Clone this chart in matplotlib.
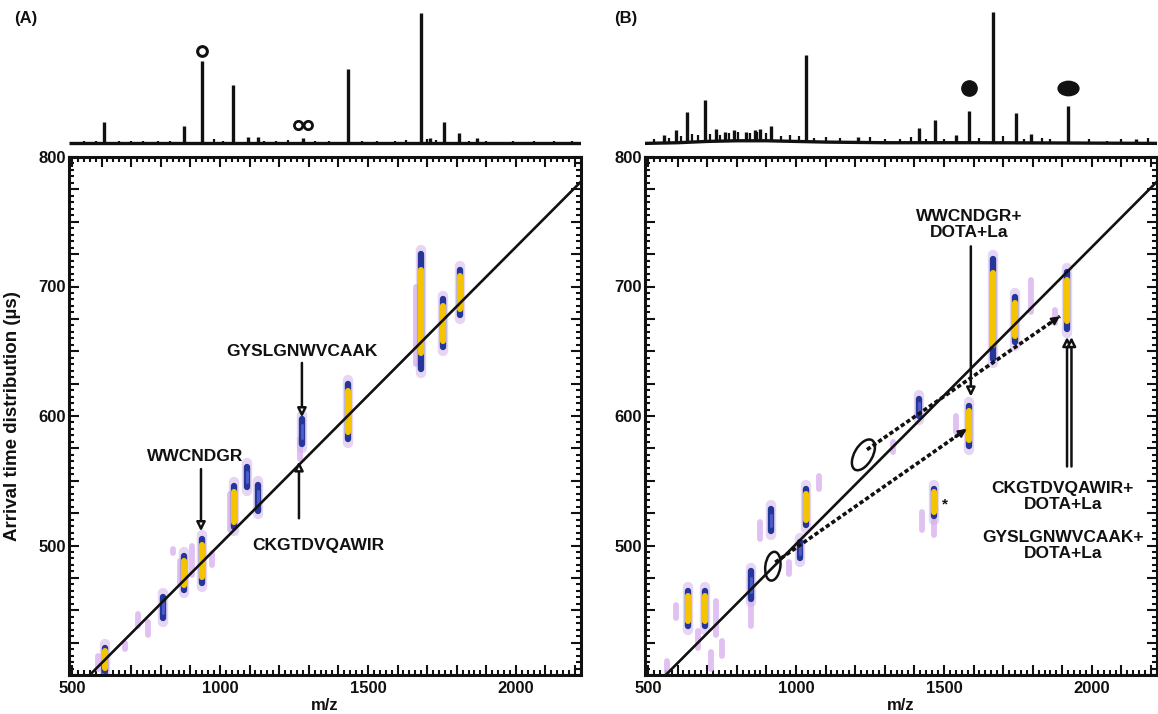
import numpy as np
import matplotlib
matplotlib.use("Agg")
from matplotlib import pyplot as plt
from matplotlib.ticker import MultipleLocator, FuncFormatter
from matplotlib.patches import Ellipse
from matplotlib.path import Path
from matplotlib.transforms import ScaledTranslation

plt.rcParams["font.family"] = ["Liberation Sans", "DejaVu Sans"]
plt.rcParams["font.weight"] = "bold"

# ---- top mass spectra (relative intensity) ----
a_peak_mz = [609, 878, 940, 1045, 1095, 1128, 1281, 1433, 1678, 1710, 1757, 1808, 1867]
a_peak_h = [16, 13, 63, 45, 5, 5, 4, 57, 100, 4, 16, 8, 4]
a_noise_mz = [540, 580, 660, 700, 740, 790, 830, 980, 1010, 1150, 1190, 1230, 1320, 1370,
              1480, 1530, 1590, 1630, 1700, 1730, 1840, 1900, 1990, 2060, 2130, 2190]
a_noise_h = [2, 1.5, 2, 1.5, 2, 1.5, 2, 3, 2, 1.5, 2, 2.5, 2, 1.5,
             2, 1.5, 2, 2.5, 3, 2.5, 2, 1.5, 2, 1.5, 2, 1.5]
a_base_mz = [490, 2220]
a_base_h = [0, 0]

b_peak_mz = [554, 594, 632, 693, 730, 760, 790, 830, 860, 880, 916, 1034, 1210,
             1416, 1470, 1541, 1584, 1666, 1742, 1794, 1919, 2149]
b_peak_h = [6, 10, 23, 32, 9, 7, 8, 7, 8, 9, 11, 66, 4, 11, 17, 6, 24, 100, 23, 7, 28, 3]
b_noise_mz = [520, 570, 610, 650, 670, 710, 745, 775, 805, 845, 870, 900, 950, 980, 1010,
              1060, 1100, 1150, 1250, 1300, 1350, 1390, 1440, 1500, 1620, 1700, 1770,
              1830, 1860, 1990, 2050, 2100, 2190]
b_noise_h = [3, 4, 5, 6, 5, 6, 5, 6, 7, 6, 7, 6, 4, 5, 4, 3, 4, 3, 4, 3, 3, 4, 3, 3, 4,
             5, 3, 4, 3, 3, 2, 3, 4]
b_base_mz = [490, 600, 700, 800, 900, 1000, 1100, 1300, 1600, 1900, 2220]
b_base_h = [0, 0.5, 1.5, 2, 2, 1.5, 1, 0.5, 0.5, 0.3, 0]

# ---- 2D arrival-time spots: m/z, low, high (us), kind ----
a_spot_mz = [588, 612, 679, 723, 757, 808, 841, 865, 878, 905, 940, 973, 1033, 1047,
             1093, 1128, 1270, 1277, 1433, 1662, 1679, 1753, 1811]
a_spot_lo = [405, 403, 420, 438, 431, 444, 494, 470, 466, 477, 471, 485, 512, 514,
             545, 527, 567, 578, 582, 640, 636, 653, 678]
a_spot_hi = [415, 421, 425, 447, 441, 460, 497, 488, 492, 500, 505, 494, 540, 546,
             561, 547, 582, 598, 625, 700, 725, 690, 713]
a_spot_kind = ["p", "y", "p", "p", "p", "b", "p", "p", "y", "p", "y", "p", "p", "y",
               "b", "b", "p", "b", "y", "p", "y", "y", "y"]

b_spot_mz = [563, 596, 634, 669, 693, 713, 730, 750, 848, 848, 879, 917, 977, 1014,
             1034, 1078, 1328, 1416, 1426, 1466, 1466, 1541, 1586, 1666, 1740, 1794,
             1875, 1916]
b_spot_lo = [400, 444, 438, 421, 438, 405, 431, 415, 438, 459, 505, 511, 478, 490,
             516, 544, 572, 600, 512, 508, 523, 588, 577, 644, 657, 680, 672, 667]
b_spot_hi = [411, 454, 465, 434, 465, 418, 457, 426, 459, 480, 518, 528, 487, 503,
             544, 554, 580, 613, 526, 520, 544, 600, 608, 721, 692, 705, 682, 711]
b_spot_kind = ["p", "p", "y", "p", "y", "p", "p", "p", "p", "b", "p", "b", "p", "b",
               "y", "p", "p", "b", "p", "p", "y", "p", "y", "y", "y", "p", "p", "y"]

# linear trend line (m/z, us)
fit_mz = [560, 2220]
fit_atd = [400, 781]

# annotations panel A: text pos, arrow x, arrow start/end
a_labels = ["GYSLGNWVCAAK", "CKGTDVQAWIR", "WWCNDGR"]
a_label_mz = [1277, 1331, 916]
a_label_atd = [650, 500, 569]
a_arrow_mz = [1277, 1267, 936]
a_arrow_from = [641, 521, 559]
a_arrow_to = [599, 565, 511]

# annotations panel B
b_labels = ["WWCNDGR+\nDOTA+La", "CKGTDVQAWIR+\nDOTA+La", "GYSLGNWVCAAK+\nDOTA+La"]
b_label_mz = [1585, 1902, 1902]
b_label_atd = [748, 538, 500]
b_arrow_mz = [1591, 1916, 1931]
b_arrow_from = [731, 561, 561]
b_arrow_to = [615, 661, 661]
b_ell_mz = [922, 1228]
b_ell_atd = [484, 570]
b_ell_w = [0.15, 0.18]
b_ell_h = [0.29, 0.34]
b_ell_ang = [-8, -30]
b_dash_from_mz = [930, 1240]
b_dash_from_atd = [487, 574]
b_dash_to_mz = [1577, 1892]
b_dash_to_atd = [590, 677]
star_mz, star_atd = 1502, 532

W, H = 1158, 714
fig = plt.figure(figsize=(W / 100, H / 100), dpi=100)

def frac(x0, y0, x1, y1):
    return [x0 / W, 1 - y1 / H, (x1 - x0) / W, (y1 - y0) / H]

ax_a = fig.add_axes(frac(69, 157, 581, 675))
ax_b = fig.add_axes(frac(645, 157, 1157, 675))
sp_a = fig.add_axes(frac(69, 10, 581, 146))
sp_b = fig.add_axes(frac(645, 10, 1157, 146))

BLACK = "#111111"

def spectrum(ax, pmz, ph, nmz, nh, bmz, bh):
    base = lambda m: np.interp(m, bmz, bh)
    ax.plot(bmz, bh, color=BLACK, lw=2.4, solid_capstyle="butt")
    ax.vlines(nmz, base(nmz), base(nmz) + np.array(nh), color=BLACK, lw=1.6)
    ax.vlines(pmz, base(pmz), base(pmz) + np.array(ph), color=BLACK, lw=2.4)
    ax.set_xlim(490, 2220)
    ax.set_ylim(-2, 102)
    ax.axis("off")

spectrum(sp_a, a_peak_mz, a_peak_h, a_noise_mz, a_noise_h, a_base_mz, a_base_h)
spectrum(sp_b, b_peak_mz, b_peak_h, b_noise_mz, b_noise_h, b_base_mz, b_base_h)

# peak markers
two_circ = Path.make_compound_path(Path.circle((-1.05, 0), 0.9), Path.circle((1.05, 0), 0.9))
oval = Path(Path.unit_circle().vertices * [1.45, 1.0], Path.unit_circle().codes)
i_o = a_peak_mz.index(940)
i_co = a_peak_mz.index(1281)
sp_a.plot(a_peak_mz[i_o], a_peak_h[i_o] + 8, marker="o", ms=7, mfc="white",
          mec=BLACK, mew=2.2, clip_on=False)
sp_a.plot(a_peak_mz[i_co], a_peak_h[i_co] + 10, marker=two_circ, ms=13, mfc="white",
          mec=BLACK, mew=2.0, clip_on=False)
i_1 = b_peak_mz.index(1584)
i_2 = b_peak_mz.index(1919)
sp_b.plot(b_peak_mz[i_1], 42, marker="o", ms=11, color=BLACK, clip_on=False)
sp_b.plot(b_peak_mz[i_2], 42, marker=oval, ms=15, color=BLACK, clip_on=False)

# spot colours
HALO = "#cfaeea"
PINK = "#dcb6f0"
BLUE = "#24369a"
YELL = "#f4c400"

def spots(ax, mz, lo, hi, kind):
    for m, l, h, k in zip(mz, lo, hi, kind):
        if k == "p":
            ax.plot([m, m], [l, h], color=PINK, lw=4.2, alpha=0.85,
                    solid_capstyle="round", zorder=2)
            continue
        ax.plot([m, m], [l - 3, h + 3], color=HALO, lw=7.5, alpha=0.5,
                solid_capstyle="round", zorder=2)
        ax.plot([m, m], [l, h], color=BLUE, lw=4.6, solid_capstyle="round", zorder=3)
        if k == "y":
            d = 0.14 * (h - l)
            ax.plot([m, m], [l + d, h - d], color=YELL, lw=4.4,
                    solid_capstyle="round", zorder=4)
        else:
            ax.plot([m, m], [l + 0.25 * (h - l), h - 0.25 * (h - l)], color="#4c5cc4",
                    lw=2.2, solid_capstyle="round", zorder=4)

def setup(ax):
    ax.set_xlim(490, 2220)
    ax.set_ylim(400, 800)
    ax.xaxis.set_major_locator(MultipleLocator(100))
    ax.xaxis.set_minor_locator(MultipleLocator(20))
    ax.yaxis.set_major_locator(MultipleLocator(25))
    ax.yaxis.set_minor_locator(MultipleLocator(5))
    ax.xaxis.set_major_formatter(FuncFormatter(
        lambda v, p: f"{int(round(v))}" if round(v) % 500 == 0 else ""))
    ax.yaxis.set_major_formatter(FuncFormatter(
        lambda v, p: f"{int(round(v))}" if round(v) % 100 == 0 and v > 401 else ""))
    ax.tick_params(which="both", direction="in", top=True, right=True,
                   width=1.5, color=BLACK, labelsize=12, labelcolor=BLACK)
    ax.tick_params(which="major", length=7)
    ax.tick_params(which="minor", length=3.5)
    ax.tick_params(axis="x", pad=4)
    ax.tick_params(axis="y", pad=2)
    for s in ax.spines.values():
        s.set_linewidth(2.2)
        s.set_color(BLACK)
    ax.set_xlabel("m/z", fontsize=12, fontweight="bold", color=BLACK)
    ax.xaxis.set_label_coords(0.5, -0.045)
    ax.plot(fit_mz, fit_atd, color=BLACK, lw=1.9, zorder=5)

for ax in (ax_a, ax_b):
    setup(ax)

spots(ax_a, a_spot_mz, a_spot_lo, a_spot_hi, a_spot_kind)
spots(ax_b, b_spot_mz, b_spot_lo, b_spot_hi, b_spot_kind)

ax_a.set_ylabel("Arrival time distribution (\u00b5s)", fontsize=13.5, fontweight="bold",
                color=BLACK)
ax_a.yaxis.set_label_coords(-0.094, 0.5)

arrow_kw = dict(arrowstyle="-|>", lw=1.8, color=BLACK, fc="white",
                mutation_scale=13, shrinkA=0, shrinkB=0)

for t, tx, ty, amz, a0, a1 in zip(a_labels, a_label_mz, a_label_atd, a_arrow_mz,
                                   a_arrow_from, a_arrow_to):
    ax_a.text(tx, ty, t, ha="center", va="center", fontsize=12.5, fontweight="bold",
              color=BLACK, zorder=7)
    ax_a.annotate("", xy=(amz, a1), xytext=(amz, a0), arrowprops=arrow_kw, zorder=7)

for t, tx, ty in zip(b_labels, b_label_mz, b_label_atd):
    ax_b.text(tx, ty, t, ha="center", va="center", fontsize=12.5, fontweight="bold",
              color=BLACK, linespacing=1.1, zorder=7)
for amz, a0, a1 in zip(b_arrow_mz, b_arrow_from, b_arrow_to):
    ax_b.annotate("", xy=(amz, a1), xytext=(amz, a0), arrowprops=arrow_kw, zorder=7)

# dashed (hatched) arrows from the encircled regions
for x0, y0, x1, y1 in zip(b_dash_from_mz, b_dash_from_atd, b_dash_to_mz, b_dash_to_atd):
    ax_b.plot([x0, x1], [y0, y1], color=BLACK, lw=2.6, ls=(0, (1.2, 0.7)), zorder=6)
    ax_b.annotate("", xy=(x1, y1), xytext=(x1 - 0.06 * (x1 - x0), y1 - 0.06 * (y1 - y0)),
                  arrowprops=dict(arrowstyle="-|>", lw=1.5, color=BLACK,
                                  mutation_scale=12, shrinkA=0, shrinkB=0), zorder=7)

for m, a, w, h, ang in zip(b_ell_mz, b_ell_atd, b_ell_w, b_ell_h, b_ell_ang):
    tr = fig.dpi_scale_trans + ScaledTranslation(m, a, ax_b.transData)
    ax_b.add_patch(Ellipse((0, 0), w, h, angle=ang, transform=tr, fill=False,
                           ec=BLACK, lw=1.8, zorder=7))

ax_b.text(star_mz, star_atd, "*", ha="center", va="center", fontsize=11,
          fontweight="bold", color=BLACK)

fig.text(26 / W, 1 - 19 / H, "(A)", ha="center", va="center", fontsize=12,
         fontweight="bold", color=BLACK)
fig.text(626 / W, 1 - 19 / H, "(B)", ha="center", va="center", fontsize=12,
         fontweight="bold", color=BLACK)

fig.savefig("out.png", dpi=100)
